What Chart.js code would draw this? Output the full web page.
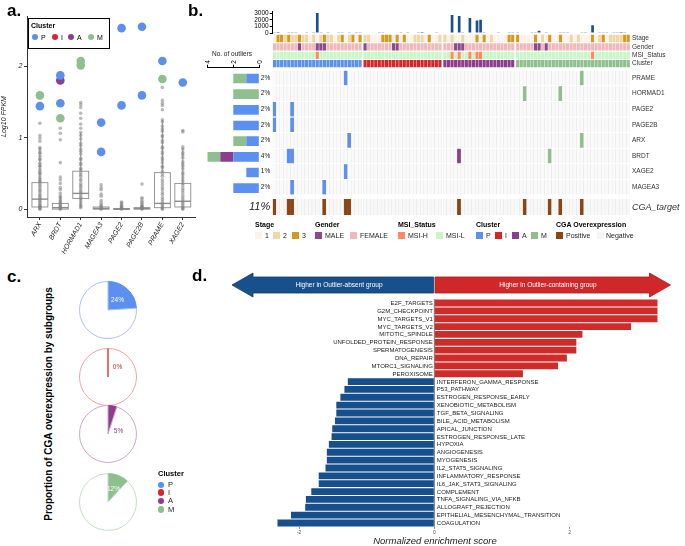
<!DOCTYPE html>
<html>
<head>
<meta charset="utf-8">
<script src="https://cdn.jsdelivr.net/npm/chart.js@4.4.1/dist/chart.umd.min.js"></script>
<style>
body { margin: 0; background: #fff; font-family: "Liberation Sans", Arial, sans-serif; }
#fig { position: relative; width: 685px; height: 546px; overflow: hidden; }
#fig canvas { position: absolute; }
.t { position: absolute; white-space: nowrap; color: #000; }
.b { position: absolute; }
</style>
</head>
<body>
<div id="fig"></div>
<script>
// ---------- shared ----------
const clusters = ['P', 'I', 'A', 'M'];
const clusterColors = ['#5b8ff0', '#d7262b', '#8c3e8c', '#8fbf8f'];
const clusterLight = ['#a9c3f5', '#f0a3a3', '#cda6cd', '#c3dec3'];

// ---------- a. expression ----------
const genes = ['ARX', 'BRDT', 'HORMAD1', 'MAGEA3', 'PAGE2', 'PAGE2B', 'PRAME', 'XAGE2'];
const boxQ1 = [0.03, 0.00, 0.15, 0.00, 0.00, 0.00, 0.02, 0.03];
const boxMed = [0.14, 0.02, 0.22, 0.01, 0.00, 0.01, 0.08, 0.11];
const boxQ3 = [0.37, 0.08, 0.53, 0.03, 0.01, 0.02, 0.51, 0.36];
const whiskerHi = [0.85, 0.19, 1.07, 0.07, 0.03, 0.05, 1.24, 0.85];
const whiskerLo = [0, 0, 0.02, 0, 0, 0, 0, 0];

const greyARX = [1.20, 1.03, 0.99, 0.95, 0.86, 0.84, 0.80, 0.78, 0.74, 0.70, 0.69, 0.64, 0.61, 0.60, 0.56, 0.53, 0.50, 0.49, 0.45, 0.42, 0.40, 0.38, 0.36, 0.33, 0.31, 0.28, 0.26, 0.24, 0.21, 0.19, 0.17, 0.15, 0.13, 0.11, 0.09, 0.07, 0.05, 0.04, 0.03, 0.02, 0.01, 0.00];
const greyBRDT = [1.13, 1.06, 0.97, 0.65, 0.45, 0.41, 0.36, 0.30, 0.27, 0.22, 0.18, 0.16, 0.13, 0.11, 0.09, 0.07, 0.06, 0.04, 0.03, 0.02, 0.01, 0.00];
const greyHORMAD1 = [1.49, 1.46, 1.42, 1.34, 1.27, 1.19, 1.13, 1.07, 1.03, 0.98, 0.92, 0.89, 0.84, 0.81, 0.77, 0.71, 0.69, 0.64, 0.62, 0.57, 0.55, 0.51, 0.48, 0.46, 0.42, 0.40, 0.36, 0.33, 0.31, 0.28, 0.25, 0.23, 0.20, 0.17, 0.15, 0.12, 0.09, 0.06, 0.04, 0.02];
const greyMAGEA3 = [0.34, 0.30, 0.27, 0.21, 0.18, 0.12, 0.09, 0.06, 0.04, 0.03, 0.01, 0.00];
const greyPAGE2 = [0.10, 0.09, 0.07, 0.05, 0.04, 0.03, 0.02, 0.01, 0.00];
const greyPAGE2B = [0.35, 0.16, 0.14, 0.11, 0.09, 0.07, 0.05, 0.04, 0.03, 0.02, 0.01, 0.00];
const greyPRAME = [1.70, 1.52, 1.48, 1.45, 1.39, 1.25, 1.22, 1.16, 1.12, 1.09, 1.03, 1.01, 0.96, 0.93, 0.87, 0.85, 0.80, 0.77, 0.72, 0.69, 0.65, 0.60, 0.58, 0.53, 0.49, 0.46, 0.41, 0.38, 0.34, 0.30, 0.27, 0.23, 0.20, 0.16, 0.13, 0.10, 0.07, 0.05, 0.03, 0.01, 0.00];
const greyXAGE2 = [1.10, 1.08, 0.87, 0.84, 0.79, 0.76, 0.72, 0.66, 0.63, 0.60, 0.56, 0.51, 0.48, 0.44, 0.40, 0.36, 0.33, 0.29, 0.26, 0.23, 0.19, 0.16, 0.13, 0.10, 0.08, 0.05, 0.03, 0.01, 0.00];
const greyPoints = [greyARX, greyBRDT, greyHORMAD1, greyMAGEA3, greyPAGE2, greyPAGE2B, greyPRAME, greyXAGE2];

const outlierGene = ['ARX', 'ARX', 'BRDT', 'BRDT', 'BRDT', 'BRDT', 'HORMAD1', 'HORMAD1', 'MAGEA3', 'MAGEA3', 'PAGE2', 'PAGE2', 'PAGE2B', 'PAGE2B', 'PRAME', 'PRAME', 'XAGE2'];
const outlierValue = [1.59, 1.44, 1.87, 1.80, 1.48, 1.27, 2.07, 2.01, 1.21, 0.80, 2.53, 1.45, 2.55, 1.59, 2.07, 1.82, 1.77];
const outlierCluster = ['M', 'P', 'P', 'A', 'P', 'M', 'M', 'M', 'P', 'P', 'P', 'P', 'P', 'P', 'P', 'M', 'P'];

// ---------- b. oncoprint ----------
const clusterSizes = [25, 22, 20, 32];
const stageP = [1, 3, 3, 2, 3, 2, 2, 3, 2, 2, 1, 2, 1, 2, 3, 2, 2, 1, 2, 3, 1, 2, 3, 1, 3];
const stageI = [2, 2, 1, 1, 1, 3, 3, 3, 1, 3, 1, 3, 1, 1, 2, 2, 2, 1, 3, 1, 1, 2];
const stageA = [2, 1, 2, 1, 1, 2, 1, 1, 1, 3, 1, 3, 1, 2, 1, 1, 1, 1, 3, 3];
const stageM = [3, 1, 1, 1, 1, 3, 1, 2, 1, 3, 1, 1, 3, 1, 1, 2, 1, 2, 1, 1, 1, 3, 1, 2, 3, 1, 2, 2, 2, 2, 3, 3];
const maleSamples = [7, 12, 13, 14, 25, 33, 34, 50, 51, 52, 72, 73, 75];
const msiHighSamples = [12, 49, 51, 54, 56, 57, 88];
const mutCountP = [110, 140, 90, 80, 130, 100, 120, 70, 90, 110, 60, 100, 3050, 110, 90, 130, 80, 70, 100, 120, 90, 110, 80, 100, 130];
const mutCountI = [80, 90, 60, 70, 100, 110, 90, 80, 70, 60, 100, 90, 120, 80, 90, 110, 170, 90, 80, 70, 100, 60];
const mutCountA = [90, 80, 2750, 70, 2600, 100, 90, 2300, 80, 1900, 2000, 110, 90, 80, 70, 100, 90, 80, 120, 110];
const mutCountM = [100, 90, 80, 70, 110, 120, 330, 90, 100, 80, 70, 90, 110, 120, 100, 90, 80, 70, 110, 100, 90, 1180, 80, 100, 120, 110, 90, 130, 100, 150, 120, 80];
const oncoGenes = ['PRAME', 'HORMAD1', 'PAGE2', 'PAGE2B', 'ARX', 'BRDT', 'XAGE2', 'MAGEA3'];
const oncoHits = [[20, 85], [69, 79], [0, 5], [0, 5], [21, 85], [4, 5, 51, 76], [20], [5, 14]];

const stageNames = ['1', '2', '3'];
const stageColors = ['#fdf2ea', '#efd6a7', '#d39a1e'];
const genderColors = { MALE: '#8c4a8c', FEMALE: '#f0b8ba' };
const msiColors = { 'MSI-H': '#ff8a5c', 'MSI-L': '#c8f7c5' };
const cgaColors = { Positive: '#8b4513', Negative: '#f5f5f5' };

// ---------- c. pies ----------
const piePercent = [24, 0, 5, 12];

// ---------- d. GSEA ----------
const pathways = ['E2F_TARGETS', 'G2M_CHECKPOINT', 'MYC_TARGETS_V1', 'MYC_TARGETS_V2', 'MITOTIC_SPINDLE', 'UNFOLDED_PROTEIN_RESPONSE', 'SPERMATOGENESIS', 'DNA_REPAIR', 'MTORC1_SIGNALING', 'PEROXISOME', 'INTERFERON_GAMMA_RESPONSE', 'P53_PATHWAY', 'ESTROGEN_RESPONSE_EARLY', 'XENOBIOTIC_METABOLISM', 'TGF_BETA_SIGNALING', 'BILE_ACID_METABOLISM', 'APICAL_JUNCTION', 'ESTROGEN_RESPONSE_LATE', 'HYPOXIA', 'ANGIOGENESIS', 'MYOGENESIS', 'IL2_STAT5_SIGNALING', 'INFLAMMATORY_RESPONSE', 'IL6_JAK_STAT3_SIGNALING', 'COMPLEMENT', 'TNFA_SIGNALING_VIA_NFKB', 'ALLOGRAFT_REJECTION', 'EPITHELIAL_MESENCHYMAL_TRANSITION', 'COAGULATION'];
const nes = [3.30, 3.30, 3.30, 2.91, 2.19, 2.10, 2.10, 1.96, 1.83, 1.31, -1.28, -1.33, -1.39, -1.45, -1.45, -1.47, -1.51, -1.52, -1.56, -1.59, -1.59, -1.61, -1.71, -1.71, -1.82, -1.90, -1.91, -2.12, -2.32];

// ---------- helpers ----------
Chart.defaults.font.family = '"Liberation Sans", Arial, sans-serif';
Chart.defaults.color = '#222';
Chart.defaults.animation = false;
Chart.defaults.responsive = false;
Chart.defaults.devicePixelRatio = 1;
Chart.defaults.plugins.legend.display = false;
Chart.defaults.plugins.tooltip.enabled = false;

const fig = document.getElementById('fig');

function makeCanvas(x, y, w, h) {
    const c = document.createElement('canvas');
    c.width = w; c.height = h;
    c.style.left = x + 'px'; c.style.top = y + 'px';
    c.style.width = w + 'px'; c.style.height = h + 'px';
    fig.appendChild(c);
    return c.getContext('2d');
}

function txt(str, x, base, size, o = {}) {
    const d = document.createElement('div');
    d.className = 't';
    d.textContent = str;
    d.style.fontSize = size + 'px';
    d.style.lineHeight = size + 'px';
    d.style.left = x + 'px';
    d.style.top = (base - 0.846 * size) + 'px';
    if (o.bold) d.style.fontWeight = 'bold';
    if (o.italic) d.style.fontStyle = 'italic';
    if (o.color) d.style.color = o.color;
    if (o.align === 'center') d.style.transform = 'translateX(-50%)';
    if (o.align === 'right') d.style.transform = 'translateX(-100%)';
    fig.appendChild(d);
    return d;
}

function box(x, y, w, h, css) {
    const d = document.createElement('div');
    d.className = 'b';
    d.style.left = x + 'px'; d.style.top = y + 'px';
    d.style.width = w + 'px'; d.style.height = h + 'px';
    d.style.cssText += css;
    fig.appendChild(d);
}

const fixedTicks = vals => s => { s.ticks = vals.map(v => ({ value: v })); };

// ================= a. =================
const boxPlugin = {
    id: 'boxes',
    beforeDatasetsDraw(chart) {
        const { ctx, scales: { x, y } } = chart;
        const half = x.getPixelForValue(1.39) - x.getPixelForValue(1);
        ctx.save();
        ctx.strokeStyle = '#8c8c8c';
        genes.forEach((g, i) => {
            const cx = x.getPixelForValue(i + 1);
            const q1 = y.getPixelForValue(boxQ1[i]);
            const q3 = y.getPixelForValue(boxQ3[i]);
            ctx.lineWidth = 0.9;
            ctx.beginPath();
            ctx.moveTo(cx, q3); ctx.lineTo(cx, y.getPixelForValue(whiskerHi[i]));
            ctx.moveTo(cx, q1); ctx.lineTo(cx, y.getPixelForValue(whiskerLo[i]));
            ctx.stroke();
            ctx.strokeRect(cx - half, q3, 2 * half, Math.max(q1 - q3, 0.8));
            ctx.lineWidth = 1.4;
            const md = y.getPixelForValue(boxMed[i]);
            ctx.beginPath(); ctx.moveTo(cx - half, md); ctx.lineTo(cx + half, md); ctx.stroke();
        });
        ctx.restore();
    }
};

const greyData = [];
greyPoints.forEach((arr, i) => arr.forEach(v => greyData.push({ x: i + 1, y: v })));

new Chart(makeCanvas(0, 0, 200, 262), {
    type: 'scatter',
    data: {
        datasets: [
            { data: greyData, pointRadius: 1.8, backgroundColor: 'rgba(130,130,130,0.55)', borderWidth: 0 },
            ...clusters.map((c, k) => ({
                data: outlierValue.map((v, i) => ({ x: genes.indexOf(outlierGene[i]) + 1, y: v, c: outlierCluster[i] }))
                    .filter(p => p.c === c),
                pointRadius: 4.3, backgroundColor: clusterColors[k], borderWidth: 0
            }))
        ]
    },
    options: {
        layout: { padding: { top: 16, right: 3 } },
        scales: {
            x: {
                type: 'linear', min: 0.368, max: 8.632,
                afterBuildTicks: fixedTicks([1, 2, 3, 4, 5, 6, 7, 8]),
                afterFit: s => { s.height = 45; },
                ticks: { callback: v => genes[v - 1], minRotation: 60, maxRotation: 60, autoSkip: false, font: { size: 7, style: 'italic' }, padding: 1 },
                grid: { drawOnChartArea: false, tickLength: 3, color: '#333' },
                border: { color: '#333' }
            },
            y: {
                min: -0.11, max: 2.7,
                afterBuildTicks: fixedTicks([0, 1, 2]),
                afterFit: s => { s.width = 27; },
                ticks: { font: { size: 7, style: 'italic' }, padding: 1.5 },
                grid: { drawOnChartArea: false, tickLength: 3, color: '#333' },
                border: { color: '#333' },
                title: { display: true, text: 'Log10 FPKM', font: { size: 7, style: 'italic' }, padding: 0 }
            }
        }
    },
    plugins: [boxPlugin]
});

// legend a
box(28, 18, 82, 31, 'border:1px solid #000;box-sizing:border-box;background:#fff;');
txt('Cluster', 31, 27.5, 7, { bold: true });
[35, 55, 71, 91].forEach((cx, k) => {
    box(cx - 3.2, 33.8, 6.4, 6.4, 'border-radius:50%;background:' + clusterColors[k] + ';');
    txt(clusters[k], cx + 6, 39.7, 7);
});

// ================= b. =================
const stages = [...stageP, ...stageI, ...stageA, ...stageM];
const mutCount = [...mutCountP, ...mutCountI, ...mutCountA, ...mutCountM];
const sampleCluster = [];
const samplePos = [];
let offset = 0;
clusterSizes.forEach((n, g) => {
    for (let i = 0; i < n; i++) { sampleCluster.push(g); samplePos.push(offset + i); }
    offset += n + 0.4;
});
const nSamples = samplePos.length;
const cgaPositive = new Set(oncoHits.flat());

const xOnco = () => ({ type: 'linear', min: -0.5, max: samplePos[nSamples - 1] + 0.5, display: false, offset: false });

// top mutation count bars
new Chart(makeCanvas(232, 7, 398, 30), {
    type: 'bar',
    data: { datasets: [{ data: samplePos.map((p, i) => ({ x: p, y: mutCount[i] })), backgroundColor: '#1b4f8a', barPercentage: 0.75, categoryPercentage: 1 }] },
    options: {
        layout: { padding: { top: 4, bottom: 4 } },
        scales: {
            x: xOnco(),
            y: {
                min: 0, max: 3350,
                afterBuildTicks: fixedTicks([0, 1000, 2000, 3000]),
                afterFit: s => { s.width = 40.7; s.paddingTop = 0; s.paddingBottom = 0; },
                ticks: { font: { size: 6.5 }, padding: 1, color: '#000', autoSkip: false, callback: v => String(v) },
                grid: { drawOnChartArea: false, tickLength: 3, color: '#000' },
                border: { color: '#000' }
            }
        }
    }
});

// oncoprint rows (y in pixels below canvas top)
const annRows = [[1.7, 9.2], [10.3, 17.6], [18.7, 26.0], [27.0, 34.3]];
const geneRows = oncoGenes.map((g, r) => [37.7 + 15.6 * r, 37.7 + 15.6 * r + 14.6]);
const cgaRow = [166, 182];
const mid = r => (r[0] + r[1]) / 2;

const annColors = [
    stages.map(s => stageColors[s - 1]),
    samplePos.map((p, i) => maleSamples.includes(i) ? genderColors.MALE : genderColors.FEMALE),
    samplePos.map((p, i) => msiHighSamples.includes(i) ? msiColors['MSI-H'] : msiColors['MSI-L']),
    sampleCluster.map(g => clusterColors[g])
];
const oncoSets = annRows.map((row, k) => ({
    data: samplePos.map(p => ({ x: p, y: row })),
    backgroundColor: annColors[k], barPercentage: 0.88, categoryPercentage: 1, borderWidth: 0
}));
geneRows.forEach((row, r) => {
    const hit = i => oncoHits[r].includes(i);
    oncoSets.push({
        data: samplePos.map(p => ({ x: p, y: row })),
        backgroundColor: samplePos.map((p, i) => hit(i) ? clusterColors[sampleCluster[i]] : '#fafafa'),
        borderColor: samplePos.map((p, i) => hit(i) ? clusterColors[sampleCluster[i]] : '#e4e4e4'),
        borderWidth: { left: 0.5, right: 0.5, top: 0, bottom: 0 }, borderSkipped: false,
        barPercentage: 1, categoryPercentage: 1
    });
});
oncoSets.push({
    data: samplePos.map(p => ({ x: p, y: cgaRow })),
    backgroundColor: samplePos.map((p, i) => cgaPositive.has(i) ? cgaColors.Positive : '#f8f8f8'),
    borderColor: samplePos.map((p, i) => cgaPositive.has(i) ? cgaColors.Positive : '#e4e4e4'),
    borderWidth: { left: 0.5, right: 0.5, top: 0, bottom: 0 }, borderSkipped: false,
    barPercentage: 1, categoryPercentage: 1
});

const pct = n => Math.round(100 * n / nSamples) + '%';
const leftLabels = oncoHits.map(h => pct(h.length)).concat([pct(cgaPositive.size)]);
const rightLabels = ['Stage', 'Gender', 'MSI_Status', 'Cluster', ...oncoGenes, 'CGA_target'];
const rowY = () => ({ type: 'linear', reverse: true, min: 0, max: 185, grid: { display: false, drawTicks: false }, border: { display: false } });

new Chart(makeCanvas(235, 33, 450, 185), {
    type: 'bar',
    data: { datasets: oncoSets },
    options: {
        datasets: { bar: { grouped: false } },
        layout: { padding: 0 },
        scales: {
            x: xOnco(),
            y: {
                ...rowY(), position: 'left',
                afterBuildTicks: fixedTicks(geneRows.map(mid).concat([mid(cgaRow)])),
                afterFit: s => { s.width = 37.7; s.paddingTop = 0; s.paddingBottom = 0; },
                ticks: {
                    callback: (v, i) => leftLabels[i], padding: 2.5, color: '#222', autoSkip: false,
                    font: c => c.index === 8 ? { size: 11, style: 'italic' } : { size: 6.5 }
                }
            },
            y2: {
                ...rowY(), position: 'right',
                afterBuildTicks: fixedTicks(annRows.map(mid).concat(geneRows.map(mid), [mid(cgaRow)])),
                afterFit: s => { s.width = 55; s.paddingTop = 0; s.paddingBottom = 0; },
                ticks: {
                    callback: (v, i) => rightLabels[i], padding: 2, color: '#333', autoSkip: false,
                    font: c => c.index === 12 ? { size: 9, style: 'italic' } : { size: 6.5 }
                }
            }
        }
    }
});

// no. of outliers
new Chart(makeCanvas(195, 56, 67, 140), {
    type: 'bar',
    data: {
        datasets: clusters.map((c, k) => ({
            data: oncoGenes.map((g, r) => ({ x: oncoHits[r].filter(i => sampleCluster[i] === k).length, y: r })),
            backgroundColor: clusterColors[k], barPercentage: 0.62, categoryPercentage: 1
        }))
    },
    options: {
        indexAxis: 'y',
        layout: { padding: { left: 12.3, right: 2.7 } },
        scales: {
            x: {
                type: 'linear', position: 'top', reverse: true, min: 0, max: 4, stacked: true,
                afterBuildTicks: fixedTicks([0, 2, 4]),
                afterFit: s => { s.height = 11.7; s.paddingLeft = 0; s.paddingRight = 0; },
                ticks: { minRotation: 90, maxRotation: 90, autoSkip: false, labelOffset: 9, font: { size: 6.5 }, padding: 1, color: '#000' },
                grid: { drawOnChartArea: false, tickLength: 3, color: '#000' },
                border: { color: '#000' }
            },
            y: { type: 'linear', min: -0.69, max: 7.5, reverse: true, display: false, stacked: true, offset: false }
        }
    }
});
txt('No. of outliers', 232, 56, 6.5, { align: 'center', color: '#222' });

// legend b
const legY = 231.5, legT = 238.3, legH = 226.7;
function legItem(x, color, label, tx) {
    box(x, legY, 7, 7, 'background:' + color + ';');
    txt(label, tx, legT, 7, { color: '#222' });
}
txt('Stage', 255, legH, 7, { bold: true });
legItem(255, stageColors[0], stageNames[0], 265);
legItem(273, stageColors[1], stageNames[1], 283);
legItem(292, stageColors[2], stageNames[2], 302);
txt('Gender', 315, legH, 7, { bold: true });
legItem(315, genderColors.MALE, 'MALE', 325);
legItem(350, genderColors.FEMALE, 'FEMALE', 360);
txt('MSI_Status', 398, legH, 7, { bold: true });
legItem(398, msiColors['MSI-H'], 'MSI-H', 408);
legItem(436, msiColors['MSI-L'], 'MSI-L', 446);
txt('Cluster', 476, legH, 7, { bold: true });
[476, 495, 512, 531].forEach((x, k) => legItem(x, clusterColors[k], clusters[k], x + 10));
txt('CGA Overexpression', 556, legH, 7, { bold: true });
legItem(556, cgaColors.Positive, 'Positive', 566);
legItem(597, cgaColors.Negative, 'Negative', 606);

// ================= c. =================
const pieCenters = [[107.5, 310], [107.5, 376.7], [107.5, 434], [107.5, 501.7]];
const pieLabelOffset = [[9.5, -10], [9.5, -9.7], [10.5, -3], [5.5, -12.7]];
const pieLabelColor = ['#fff', clusterColors[1], clusterColors[2], '#fff'];

const pieLabelPlugin = {
    id: 'pieLabel',
    afterDatasetsDraw(chart, args, o) {
        const ctx = chart.ctx;
        const arc = chart.getDatasetMeta(0).data[1];
        ctx.save();
        if (o.value === 0) {
            ctx.strokeStyle = o.line; ctx.lineWidth = 1;
            ctx.beginPath();
            ctx.moveTo(arc.x, arc.y);
            ctx.lineTo(arc.x + arc.outerRadius * Math.cos(arc.startAngle), arc.y + arc.outerRadius * Math.sin(arc.startAngle));
            ctx.stroke();
        }
        ctx.fillStyle = o.color;
        ctx.font = '6.5px "Liberation Sans", Arial, sans-serif';
        ctx.textAlign = 'center'; ctx.textBaseline = 'middle';
        ctx.fillText(o.value + '%', arc.x + o.dx, arc.y + o.dy);
        ctx.restore();
    }
};

piePercent.forEach((p, k) => {
    const [cx, cy] = pieCenters[k];
    new Chart(makeCanvas(Math.round(cx - 31), Math.round(cy - 31), 62, 62), {
        type: 'pie',
        data: {
            datasets: [{
                data: [p, 100 - p],
                backgroundColor: [clusterColors[k], '#ffffff'],
                borderColor: [clusterColors[k], clusterLight[k]],
                borderWidth: 1
            }]
        },
        options: {
            layout: { padding: 2 },
            plugins: { pieLabel: { value: p, color: pieLabelColor[k], line: clusterColors[k], dx: pieLabelOffset[k][0], dy: pieLabelOffset[k][1] } }
        },
        plugins: [pieLabelPlugin]
    });
});

const ct = txt('Proportion of CGA overexpression by subgroups', 0, 0, 10, { bold: true });
ct.style.left = '49px'; ct.style.top = '404px';
ct.style.transform = 'translate(-50%,-50%) rotate(-90deg)';

txt('Cluster', 158, 476, 7.5, { bold: true });
[485, 492.7, 501, 509.3].forEach((y, k) => {
    box(161 - 3.3, y - 3.3, 6.6, 6.6, 'border-radius:50%;background:' + clusterColors[k] + ';');
    txt(clusters[k], 168, y + 2.7, 7.5, { color: '#222' });
});

// ================= d. =================
const arrowPlugin = {
    id: 'arrows',
    afterDraw(chart) {
        const { ctx, chartArea, scales: { x } } = chart;
        const x0 = x.getPixelForValue(0);
        const cy = chartArea.top - 14.1, bodyH = 8, headH = 12, headL = 21;
        const arrow = (from, tip, fill, stroke) => {
            const dir = Math.sign(tip - from);
            const base = tip - dir * headL;
            ctx.beginPath();
            ctx.moveTo(from, cy - bodyH); ctx.lineTo(base, cy - bodyH); ctx.lineTo(base, cy - headH);
            ctx.lineTo(tip, cy); ctx.lineTo(base, cy + headH); ctx.lineTo(base, cy + bodyH);
            ctx.lineTo(from, cy + bodyH); ctx.closePath();
            ctx.fillStyle = fill; ctx.fill();
            ctx.strokeStyle = stroke; ctx.lineWidth = 0.8; ctx.stroke();
        };
        ctx.save();
        arrow(x0 - 0.7, chartArea.left + 0.5, '#17508a', '#0f3d6e');
        arrow(x0 + 0.7, chartArea.right - 0.5, '#d0282a', '#a51d1f');
        ctx.fillStyle = '#fff';
        ctx.font = '6.5px "Liberation Sans", Arial, sans-serif';
        ctx.textAlign = 'center'; ctx.textBaseline = 'middle';
        ctx.fillText('Higher in Outlier-absent group', x0 - (x0 - chartArea.left) * 0.47, cy + 0.5);
        ctx.fillText('Higher in Outlier-containing group', x0 + (chartArea.right - x0) * 0.48, cy + 0.5);
        ctx.restore();
    }
};

const nesLabelPlugin = {
    id: 'nesLabels',
    afterDatasetsDraw(chart) {
        const { ctx, chartArea, scales: { x, y } } = chart;
        const x0 = x.getPixelForValue(0);
        ctx.save();
        ctx.strokeStyle = '#555'; ctx.lineWidth = 0.8;
        ctx.beginPath(); ctx.moveTo(x0, chartArea.top); ctx.lineTo(x0, chartArea.bottom); ctx.stroke();
        ctx.fillStyle = '#222';
        ctx.font = '6px "Liberation Sans", Arial, sans-serif';
        ctx.textBaseline = 'middle';
        pathways.forEach((p, i) => {
            const py = y.getPixelForValue(i);
            if (nes[i] > 0) { ctx.textAlign = 'right'; ctx.fillText(p, x0 - 1.5, py + 0.3); }
            else { ctx.textAlign = 'left'; ctx.fillText(p, x0 + 2.5, py + 0.3); }
        });
        ctx.restore();
    }
};

new Chart(makeCanvas(231, 268, 440, 278), {
    type: 'bar',
    data: {
        labels: pathways,
        datasets: [{ data: nes, backgroundColor: nes.map(v => v > 0 ? '#d02b2b' : '#164f8c'), barPercentage: 0.87, categoryPercentage: 1 }]
    },
    options: {
        indexAxis: 'y',
        layout: { padding: { top: 31.1, left: 0.5, right: 0 } },
        scales: {
            y: { display: false },
            x: {
                min: -3, max: 3.5,
                afterBuildTicks: fixedTicks([-2, 0, 2]),
                afterFit: s => { s.height = 19.1; },
                ticks: { font: { size: 5 }, color: '#555', padding: 1 },
                grid: { drawOnChartArea: false, tickLength: 2, color: '#888' },
                border: { display: false }
            }
        }
    },
    plugins: [nesLabelPlugin, arrowPlugin]
});
txt('Normalized enrichment score', 435, 544, 9.5, { italic: true, align: 'center', color: '#222' });

// panel letters
txt('a.', 7, 16.7, 17, { bold: true });
txt('b.', 188, 16.7, 17, { bold: true });
txt('c.', 7, 282.7, 17, { bold: true });
txt('d.', 192, 281.7, 17, { bold: true });
</script>
</body>
</html>
